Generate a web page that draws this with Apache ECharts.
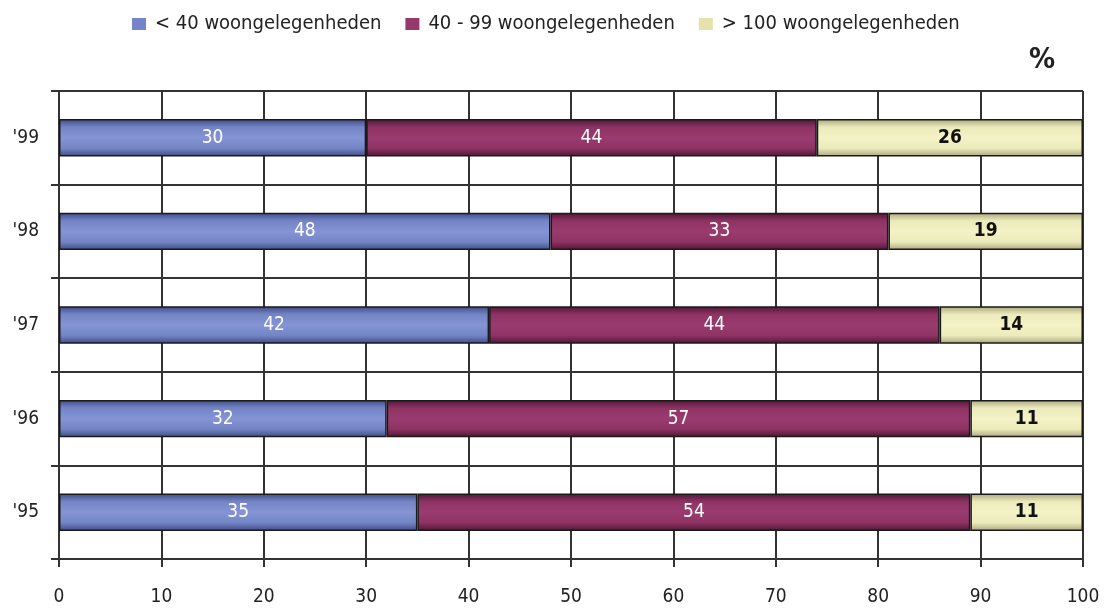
<!DOCTYPE html>
<html>
<head>
<meta charset="utf-8">
<script src="https://cdn.jsdelivr.net/npm/echarts@6/dist/echarts.min.js"></script>
<style>
  html, body { margin: 0; padding: 0; background: #ffffff; }
  #chart { width: 1105px; height: 609px; }
</style>
</head>
<body>
<div id="chart"></div>
<script>
// Years, bottom to top
const years = ["'95", "'96", "'97", "'98", "'99"];
// Share of projects (%) by size class
const small  = [35, 32, 42, 48, 30];   // < 40 woongelegenheden
const medium = [54, 57, 44, 33, 44];   // 40 - 99 woongelegenheden
const large  = [11, 11, 14, 19, 26];   // > 100 woongelegenheden
const seriesNames = ['< 40 woongelegenheden', '40 - 99 woongelegenheden', '> 100 woongelegenheden'];
const xTicks = [0, 10, 20, 30, 40, 50, 60, 70, 80, 90, 100];

const FONT = '"DejaVu Sans Condensed", "Liberation Sans Narrow", "Arial Narrow", sans-serif';

function tube(edge, mid, center) {
  return new echarts.graphic.LinearGradient(0, 0, 0, 1, [
    { offset: 0, color: edge },
    { offset: 0.22, color: mid },
    { offset: 0.5, color: center },
    { offset: 0.78, color: mid },
    { offset: 1, color: edge }
  ]);
}

const styles = [
  { fill: tube('#3f4a86', '#7485c6', '#8494d4'), legend: '#7584c8', label: '#ffffff', weight: 'normal' },
  { fill: tube('#4e1634', '#8e3364', '#9a3b6f'), legend: '#963869', label: '#ffffff', weight: 'normal' },
  { fill: tube('#a9a57e', '#ecebbb', '#f4f2c6'), legend: '#e6e2b0', label: '#111111', weight: 'bold' }
];

const dataSets = [small, medium, large];

const chart = echarts.init(document.getElementById('chart'), null, { renderer: 'canvas' });

chart.setOption({
  animation: false,
  backgroundColor: '#ffffff',
  legend: {
    top: 9,
    left: 127,
    itemWidth: 14,
    itemHeight: 12,
    itemGap: 24,
    icon: 'rect',
    textStyle: { fontFamily: FONT, fontSize: 20, color: '#222222', padding: [0, 0, 0, 4] },
    data: seriesNames.map((n, i) => ({
      name: n,
      itemStyle: { color: styles[i].legend, borderWidth: 0 }
    }))
  },
  title: {
    text: '%',
    left: 1029,
    top: 46,
    padding: 0,
    textStyle: { fontFamily: FONT, fontSize: 29, fontWeight: 'bold', color: '#222222' }
  },
  grid: { left: 59, right: 22, top: 91, bottom: 50, containLabel: false },
  xAxis: {
    type: 'value',
    min: 0,
    max: 100,
    interval: 10,
    axisLine: { show: true, lineStyle: { color: '#333333', width: 2 } },
    axisTick: { show: true, length: 8, lineStyle: { color: '#333333', width: 2 } },
    axisLabel: {
      margin: 29,
      fontFamily: FONT,
      fontSize: 19,
      color: '#222222',
      formatter: v => (xTicks.indexOf(v) >= 0 ? String(v) : '')
    },
    splitLine: { show: true, lineStyle: { color: '#333333', width: 2 } }
  },
  yAxis: {
    type: 'category',
    data: years,
    boundaryGap: true,
    axisLine: { show: true, lineStyle: { color: '#333333', width: 2 } },
    axisTick: { show: true, inside: false, length: 8, lineStyle: { color: '#333333', width: 2 } },
    axisLabel: { margin: 20, fontFamily: FONT, fontSize: 19, color: '#222222' },
    splitLine: { show: true, interval: 0, lineStyle: { color: '#333333', width: 2 } }
  },
  series: dataSets.map((d, i) => ({
    name: seriesNames[i],
    type: 'bar',
    stack: 'total',
    barWidth: '40%',
    data: d,
    itemStyle: { color: styles[i].fill, borderColor: '#1a1a1a', borderWidth: 1.5 },
    label: {
      show: true,
      position: 'inside',
      fontFamily: FONT,
      fontSize: 19,
      fontWeight: styles[i].weight,
      color: styles[i].label
    }
  }))
});
</script>
</body>
</html>
